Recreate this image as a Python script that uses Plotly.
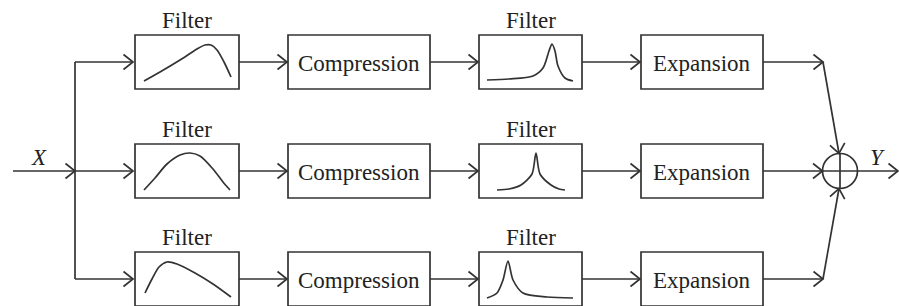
import plotly.graph_objects as go

# ---- diagram content ----
stage_labels = ["Filter", "Compression", "Filter", "Expansion"]
header_labels = ["Filter", "", "Filter", ""]
input_label = "X"
output_label = "Y"

# filter response shapes (dx, dy offsets inside each filter box)
first_filter_dx = [[9, 25, 45, 62, 70, 76, 82, 89, 96],
                   [9, 20, 32, 45, 55, 65, 78, 88, 95],
                   [10, 17, 24, 32, 42, 60, 78, 96]]
first_filter_dy = [[46, 37, 25, 14, 10, 10, 15, 27, 42],
                   [46, 34, 20, 11, 9, 12, 25, 38, 46],
                   [41, 27, 15, 10, 12, 21, 32, 45]]
second_filter_dx = [[8, 30, 54, 64, 70, 73, 76, 79, 86, 94],
                    [18, 30, 42, 53, 57, 61, 72, 80, 86],
                    [8, 18, 24, 29, 34, 44, 68, 94]]
second_filter_dy = [[45, 44, 41, 33, 16, 9, 16, 31, 43, 46],
                    [46, 45, 41, 30, 9, 30, 41, 45, 46],
                    [46, 41, 28, 9, 28, 41, 45, 46]]

# ---- layout constants (pixels) ----
W, H = 899, 306
ROW_Y = [62, 171, 279]
BOX_X = [(135, 239), (288, 430), (479, 582), (641, 763)]
BOX_HALF = 27
BUS_X = 75
IN_X = 13
SUM_C = (840, 171)
SUM_R = 17.5
JOIN_X = 823
LC = "#333333"
LW = 1.7
FONT = "Liberation Serif"
TC = "#222222"
FS = 23

shapes = []
annotations = []


def line(x0, y0, x1, y1):
    shapes.append(dict(type="line", x0=x0, y0=y0, x1=x1, y1=y1,
                       line=dict(color=LC, width=LW)))


def chevron(tx, ty, dx, dy, L=9.5, half=7.5):
    n = (dx * dx + dy * dy) ** 0.5
    ux, uy = dx / n, dy / n
    px, py = -uy, ux
    bx, by = tx - ux * L, ty - uy * L
    shapes.append(dict(type="path",
                       path=f"M {bx + px * half},{by + py * half} L {tx},{ty} L {bx - px * half},{by - py * half}",
                       line=dict(color=LC, width=LW)))


def arrow(x0, y0, x1, y1):
    line(x0, y0, x1, y1)
    chevron(x1, y1, x1 - x0, y1 - y0)


fig = go.Figure()

# input and bus
arrow(IN_X, ROW_Y[1], BUS_X, ROW_Y[1])
line(BUS_X, ROW_Y[0], BUS_X, ROW_Y[2])

for r, ry in enumerate(ROW_Y):
    arrow(BUS_X, ry, BOX_X[0][0] - 2, ry)
    for k, (bx0, bx1) in enumerate(BOX_X):
        shapes.append(dict(type="rect", x0=bx0, x1=bx1, y0=ry - BOX_HALF, y1=ry + BOX_HALF,
                           line=dict(color=LC, width=LW), fillcolor="rgba(0,0,0,0)"))
        if k + 1 < len(BOX_X):
            arrow(bx1, ry, BOX_X[k + 1][0] - 1, ry)
        if header_labels[k]:
            annotations.append(dict(x=(bx0 + bx1) / 2, y=ry - BOX_HALF - 15, text=header_labels[k],
                                    showarrow=False, xanchor="center", yanchor="middle",
                                    font=dict(family=FONT, size=FS, color=TC)))
        if stage_labels[k] != "Filter":
            annotations.append(dict(x=(bx0 + bx1) / 2, y=ry + 1, text=stage_labels[k],
                                    showarrow=False, xanchor="center", yanchor="middle",
                                    font=dict(family=FONT, size=FS, color=TC)))
    for k, dxs, dys in ((0, first_filter_dx[r], first_filter_dy[r]),
                        (2, second_filter_dx[r], second_filter_dy[r])):
        bx0 = BOX_X[k][0]
        top = ry - BOX_HALF
        fig.add_trace(go.Scatter(x=[bx0 + d for d in dxs], y=[top + d for d in dys],
                                 mode="lines", line=dict(color=LC, width=LW, shape="spline", smoothing=0.8),
                                 hoverinfo="skip", showlegend=False))

# to summing junction
cx, cy = SUM_C
xe = BOX_X[3][1]
line(xe, ROW_Y[0], JOIN_X, ROW_Y[0])
chevron(JOIN_X, ROW_Y[0], 1, 0)
arrow(JOIN_X, ROW_Y[0], cx - 1, cy - SUM_R)
arrow(xe, ROW_Y[1], cx - SUM_R, cy)
line(xe, ROW_Y[2], JOIN_X, ROW_Y[2])
chevron(JOIN_X, ROW_Y[2], 1, 0)
arrow(JOIN_X, ROW_Y[2], cx - 1, cy + SUM_R)

shapes.append(dict(type="circle", x0=cx - SUM_R, x1=cx + SUM_R, y0=cy - SUM_R, y1=cy + SUM_R,
                   line=dict(color=LC, width=LW)))
line(cx - SUM_R, cy, cx + SUM_R, cy)
line(cx, cy - SUM_R, cx, cy + SUM_R)
arrow(cx + SUM_R, cy, W - 1, cy)

annotations.append(dict(x=39, y=157, text=f"<i>{input_label}</i>", showarrow=False,
                        font=dict(family=FONT, size=FS, color=TC)))
annotations.append(dict(x=877, y=157, text=f"<i>{output_label}</i>", showarrow=False,
                        font=dict(family=FONT, size=FS, color=TC)))

fig.update_layout(
    width=W, height=H, margin=dict(l=0, r=0, t=0, b=0),
    paper_bgcolor="white", plot_bgcolor="white",
    xaxis=dict(range=[0, W], visible=False, fixedrange=True),
    yaxis=dict(range=[H, 0], visible=False, fixedrange=True),
    shapes=shapes, annotations=annotations, showlegend=False,
)
fig.write_html("out.html", config={"displayModeBar": False},
               post_script="document.body.style.margin='0';document.body.style.overflow='hidden';")
